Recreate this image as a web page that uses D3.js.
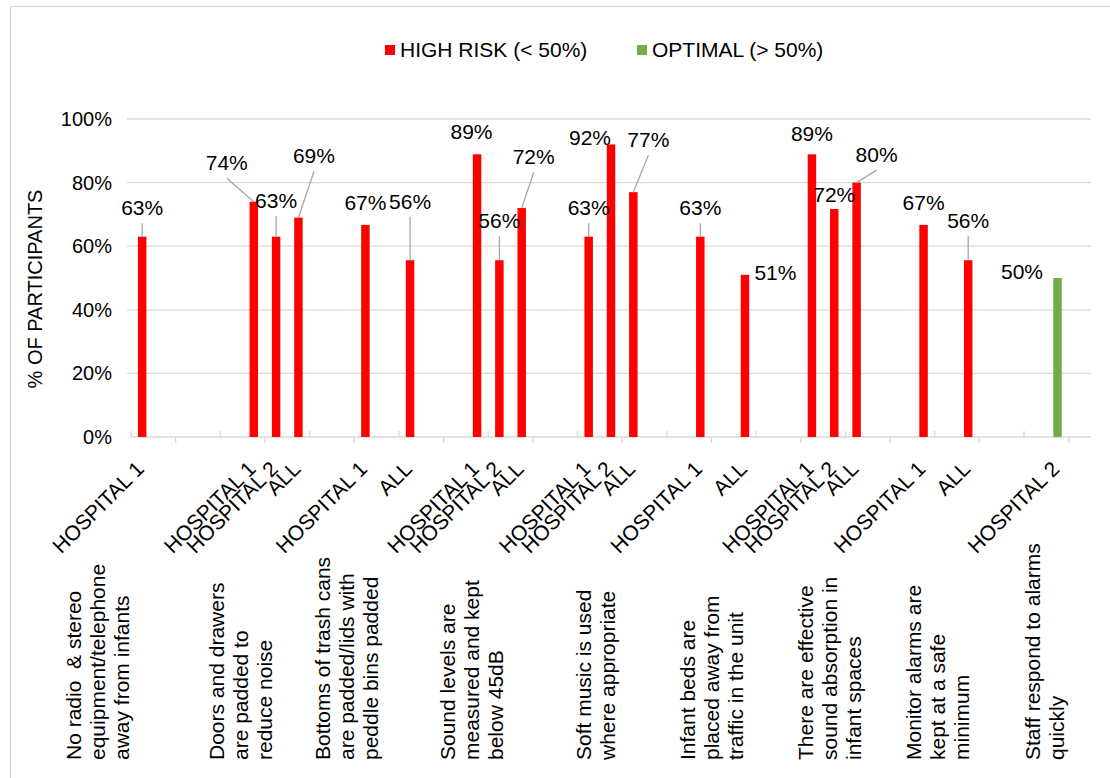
<!DOCTYPE html>
<html>
<head>
<meta charset="utf-8">
<script src="https://cdn.jsdelivr.net/npm/d3@7"></script>
<style>
  body { margin: 0; background: #fff; }
  text { font-family: "Liberation Sans", Arial, sans-serif; fill: #000; }
</style>
</head>
<body>
<div id="chart"></div>
<script>
// Outer categories (questions), one line per array item
var groups = [
    ["No radio  & stereo", "equipment/telephone", "away from infants"],
    ["Doors and drawers", "are padded to", "reduce noise"],
    ["Bottoms of trash cans", "are padded/lids with", "peddle bins padded"],
    ["Sound levels are", "measured and kept", "below 45dB"],
    ["Soft music is used", "where appropriate"],
    ["Infant beds are", "placed away from", "traffic in the unit"],
    ["There are effective", "sound absorption in", "infant spaces"],
    ["Monitor alarms are", "kept at a safe", "minimum"],
    ["Staff respond to alarms", "quickly"]
];
var siteNames = ["HOSPITAL 1", "HOSPITAL 2", "ALL"];

// One entry per bar
var barGroup = [0, 1, 1, 1, 2, 2, 3, 3, 3, 4, 4, 4, 5, 5, 6, 6, 6, 7, 7, 8];
var barSite  = ["HOSPITAL 1", "HOSPITAL 1", "HOSPITAL 2", "ALL", "HOSPITAL 1", "ALL",
                "HOSPITAL 1", "HOSPITAL 2", "ALL", "HOSPITAL 1", "HOSPITAL 2", "ALL",
                "HOSPITAL 1", "ALL", "HOSPITAL 1", "HOSPITAL 2", "ALL", "HOSPITAL 1", "ALL",
                "HOSPITAL 2"];
var barValue = [63, 74, 63, 69, 66.7, 55.6, 88.9, 55.6, 72, 63, 92, 77,
                63, 51, 88.9, 71.7, 80, 66.7, 55.6, 50];
var barSeries = ["HIGH", "HIGH", "HIGH", "HIGH", "HIGH", "HIGH", "HIGH", "HIGH", "HIGH", "HIGH",
                 "HIGH", "HIGH", "HIGH", "HIGH", "HIGH", "HIGH", "HIGH", "HIGH", "HIGH", "OPTIMAL"];

var seriesKeys = ["HIGH", "OPTIMAL"];
var seriesNames = ["HIGH RISK (< 50%)", "OPTIMAL (> 50%)"];
var yTicks = [0, 20, 40, 60, 80, 100];

// Where the data labels sit (moved off the bars like in the original)
var labelDx = [0, -27, 0, 15.5, 0, 0, -5.5, 0, 12, 0, -21, 15, 0, 30.5, 0, 0, 20, 0, 0, -35.5];
var labelDy = [-29, -39, -36, -61.5, -22, -59, -23, -39.5, -51, -29, -6.5, -52.5,
               -29, -2.5, -20.5, -14.5, -28, -22, -40, -6];
var hasLeader = [1, 1, 1, 1, 0, 1, 0, 1, 1, 1, 0, 1, 1, 0, 0, 0, 1, 0, 1, 0];
// shift of each question label from the first slot of its group
var groupDx = [-45, -13, -18.5, -5, 7, 11.6, 18, 14.3, 9];

(function() {
    var width = 1110, height = 778;
    var plotLeft = 131, plotRight = 1091, plotTop = 119, plotBottom = 437;
    var slotsPerGroup = 5;
    var nSlots = 43;

    var svg = d3.select("#chart").append("svg")
        .attr("width", width)
        .attr("height", height);

    // chart border
    svg.append("rect")
        .attr("x", 10.5).attr("y", 6.5)
        .attr("width", 1200).attr("height", 1000)
        .attr("fill", "none")
        .attr("stroke", "#d9d9d9")
        .attr("stroke-width", 1.3);

    var x = d3.scaleBand()
        .domain(d3.range(nSlots))
        .range([plotLeft, plotRight])
        .padding(0);

    var y = d3.scaleLinear()
        .domain([0, 100])
        .range([plotBottom, plotTop]);

    var color = d3.scaleOrdinal()
        .domain(seriesKeys)
        .range(["#ff0000", "#70ad47"]);

    var data = barValue.map(function(v, i) {
        return {
            slot: barGroup[i] * slotsPerGroup + siteNames.indexOf(barSite[i]),
            site: barSite[i],
            value: v,
            series: barSeries[i],
            dx: labelDx[i],
            dy: labelDy[i],
            leader: hasLeader[i]
        };
    });

    var cx = d => x(d.slot) + x.bandwidth() / 2;

    // gridlines
    svg.append("g")
        .selectAll("line")
        .data(yTicks.slice(1))
        .join("line")
        .attr("x1", plotLeft - 4).attr("x2", plotRight)
        .attr("y1", d => y(d)).attr("y2", d => y(d))
        .attr("stroke", "#d9d9d9")
        .attr("stroke-width", 1.3);

    // y tick labels
    svg.append("g")
        .selectAll("text")
        .data(yTicks)
        .join("text")
        .attr("x", 112)
        .attr("y", d => y(d))
        .attr("dy", "0.35em")
        .attr("text-anchor", "end")
        .style("font-size", "20px")
        .text(d => d + "%");

    // y title
    svg.append("text")
        .attr("transform", "translate(35,289) rotate(-90)")
        .attr("dy", "0.35em")
        .attr("text-anchor", "middle")
        .style("font-size", "20px")
        .text("% OF PARTICIPANTS");

    // x axis line and ticks
    svg.append("line")
        .attr("x1", plotLeft).attr("x2", plotRight)
        .attr("y1", plotBottom).attr("y2", plotBottom)
        .attr("stroke", "#d9d9d9")
        .attr("stroke-width", 1.5);

    svg.append("g")
        .selectAll("line")
        .data(d3.range(0, nSlots, 2))
        .join("line")
        .attr("x1", d => x(d)).attr("x2", d => x(d))
        .attr("y1", d => (d / 2) % 2 === 0 ? plotBottom - 6 : plotBottom)
        .attr("y2", d => (d / 2) % 2 === 0 ? plotBottom : plotBottom + 6)
        .attr("stroke", "#d9d9d9")
        .attr("stroke-width", 1.3);

    // bars
    var barW = x.bandwidth() * 0.38;
    svg.append("g")
        .selectAll("rect")
        .data(data)
        .join("rect")
        .attr("x", d => cx(d) - barW / 2)
        .attr("y", d => y(d.value))
        .attr("width", barW)
        .attr("height", d => y(0) - y(d.value))
        .attr("fill", d => color(d.series));

    // leader lines
    svg.append("g")
        .selectAll("line")
        .data(data.filter(d => d.leader))
        .join("line")
        .attr("x1", d => cx(d) + d.dx)
        .attr("y1", d => y(d.value) + d.dy + 15.5)
        .attr("x2", d => cx(d))
        .attr("y2", d => y(d.value))
        .attr("stroke", "#a6a6a6")
        .attr("stroke-width", 1.3);

    // data labels
    svg.append("g")
        .selectAll("text")
        .data(data)
        .join("text")
        .attr("x", d => cx(d) + d.dx)
        .attr("y", d => y(d.value) + d.dy)
        .attr("dy", "0.35em")
        .attr("text-anchor", "middle")
        .style("font-size", "21px")
        .text(d => Math.round(d.value) + "%");

    // site labels, rotated
    svg.append("g")
        .selectAll("text")
        .data(data)
        .join("text")
        .attr("transform", d => "translate(" + (cx(d) - 2) + ",465) rotate(-45)")
        .attr("dy", "0.35em")
        .attr("text-anchor", "end")
        .style("font-size", "21px")
        .text(d => d.site);

    // question labels, vertical
    var gl = svg.append("g")
        .selectAll("g")
        .data(groups)
        .join("g")
        .attr("transform", (d, i) => "translate(" + (x(i * slotsPerGroup) + x.bandwidth() / 2 + groupDx[i]) + ",760)");

    gl.each(function(lines) {
        var g = d3.select(this);
        var lineH = 24;
        var off = -(lines.length - 1) / 2 * lineH;
        lines.forEach(function(t, j) {
            g.append("text")
                .attr("transform", "translate(" + (off + j * lineH) + ",0) rotate(-90)")
                .attr("dy", "0.35em")
                .attr("text-anchor", "start")
                .style("font-size", "21px")
                .style("white-space", "pre")
                .text(t);
        });
    });

    // legend
    var legendX = [385, 637];
    var legend = svg.append("g")
        .selectAll("g")
        .data(seriesKeys)
        .join("g")
        .attr("transform", (d, i) => "translate(" + legendX[i] + ",50)");

    legend.append("rect")
        .attr("x", 0).attr("y", -5)
        .attr("width", 10).attr("height", 10)
        .attr("fill", d => color(d));

    legend.append("text")
        .attr("x", 15)
        .attr("dy", "0.35em")
        .style("font-size", "21px")
        .text((d, i) => seriesNames[i]);
})();
</script>
</body>
</html>
